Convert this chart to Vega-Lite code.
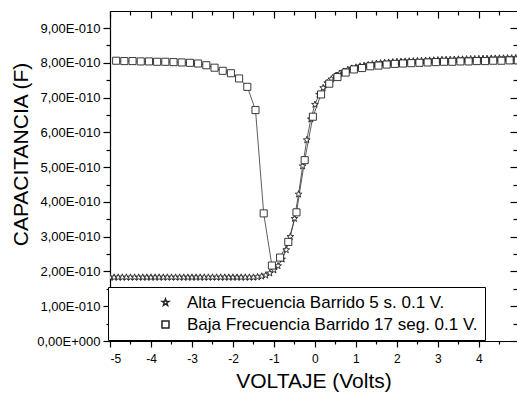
{
  "$schema": "https://vega.github.io/schema/vega-lite/v6.json",
  "width": 407,
  "height": 330,
  "autosize": {"type": "none"},
  "padding": {"left": 110, "top": 11, "right": 0, "bottom": 54},
  "background": "white",
  "config": {
    "view": {"stroke": null},
    "font": "Liberation Sans",
    "axis": {
      "labelFont": "Liberation Sans",
      "titleFont": "Liberation Sans",
      "titleFontWeight": "normal",
      "labelColor": "black",
      "titleColor": "black",
      "domainColor": "black",
      "tickColor": "black",
      "domainWidth": 1.2,
      "tickWidth": 1.2,
      "grid": false
    },
    "legend": {"labelFont": "Liberation Sans", "labelColor": "black"}
  },
  "data": {"values": [
    {"s": "Alta Frecuencia Barrido 5 s. 0.1 V.", "V": -5.0, "C": 183}, {"s": "Alta Frecuencia Barrido 5 s. 0.1 V.", "V": -4.9, "C": 183},
    {"s": "Alta Frecuencia Barrido 5 s. 0.1 V.", "V": -4.8, "C": 183}, {"s": "Alta Frecuencia Barrido 5 s. 0.1 V.", "V": -4.7, "C": 183},
    {"s": "Alta Frecuencia Barrido 5 s. 0.1 V.", "V": -4.6, "C": 183}, {"s": "Alta Frecuencia Barrido 5 s. 0.1 V.", "V": -4.5, "C": 183},
    {"s": "Alta Frecuencia Barrido 5 s. 0.1 V.", "V": -4.4, "C": 183}, {"s": "Alta Frecuencia Barrido 5 s. 0.1 V.", "V": -4.3, "C": 183},
    {"s": "Alta Frecuencia Barrido 5 s. 0.1 V.", "V": -4.2, "C": 183}, {"s": "Alta Frecuencia Barrido 5 s. 0.1 V.", "V": -4.1, "C": 183},
    {"s": "Alta Frecuencia Barrido 5 s. 0.1 V.", "V": -4.0, "C": 183}, {"s": "Alta Frecuencia Barrido 5 s. 0.1 V.", "V": -3.9, "C": 183},
    {"s": "Alta Frecuencia Barrido 5 s. 0.1 V.", "V": -3.8, "C": 183}, {"s": "Alta Frecuencia Barrido 5 s. 0.1 V.", "V": -3.7, "C": 183},
    {"s": "Alta Frecuencia Barrido 5 s. 0.1 V.", "V": -3.6, "C": 183}, {"s": "Alta Frecuencia Barrido 5 s. 0.1 V.", "V": -3.5, "C": 183},
    {"s": "Alta Frecuencia Barrido 5 s. 0.1 V.", "V": -3.4, "C": 183}, {"s": "Alta Frecuencia Barrido 5 s. 0.1 V.", "V": -3.3, "C": 183},
    {"s": "Alta Frecuencia Barrido 5 s. 0.1 V.", "V": -3.2, "C": 183}, {"s": "Alta Frecuencia Barrido 5 s. 0.1 V.", "V": -3.1, "C": 183},
    {"s": "Alta Frecuencia Barrido 5 s. 0.1 V.", "V": -3.0, "C": 183}, {"s": "Alta Frecuencia Barrido 5 s. 0.1 V.", "V": -2.9, "C": 183},
    {"s": "Alta Frecuencia Barrido 5 s. 0.1 V.", "V": -2.8, "C": 183}, {"s": "Alta Frecuencia Barrido 5 s. 0.1 V.", "V": -2.7, "C": 183},
    {"s": "Alta Frecuencia Barrido 5 s. 0.1 V.", "V": -2.6, "C": 183}, {"s": "Alta Frecuencia Barrido 5 s. 0.1 V.", "V": -2.5, "C": 183},
    {"s": "Alta Frecuencia Barrido 5 s. 0.1 V.", "V": -2.4, "C": 183}, {"s": "Alta Frecuencia Barrido 5 s. 0.1 V.", "V": -2.3, "C": 183},
    {"s": "Alta Frecuencia Barrido 5 s. 0.1 V.", "V": -2.2, "C": 183}, {"s": "Alta Frecuencia Barrido 5 s. 0.1 V.", "V": -2.1, "C": 183},
    {"s": "Alta Frecuencia Barrido 5 s. 0.1 V.", "V": -2.0, "C": 183}, {"s": "Alta Frecuencia Barrido 5 s. 0.1 V.", "V": -1.9, "C": 183},
    {"s": "Alta Frecuencia Barrido 5 s. 0.1 V.", "V": -1.8, "C": 183}, {"s": "Alta Frecuencia Barrido 5 s. 0.1 V.", "V": -1.7, "C": 183},
    {"s": "Alta Frecuencia Barrido 5 s. 0.1 V.", "V": -1.6, "C": 183}, {"s": "Alta Frecuencia Barrido 5 s. 0.1 V.", "V": -1.5, "C": 183},
    {"s": "Alta Frecuencia Barrido 5 s. 0.1 V.", "V": -1.4, "C": 184}, {"s": "Alta Frecuencia Barrido 5 s. 0.1 V.", "V": -1.3, "C": 186},
    {"s": "Alta Frecuencia Barrido 5 s. 0.1 V.", "V": -1.2, "C": 189}, {"s": "Alta Frecuencia Barrido 5 s. 0.1 V.", "V": -1.1, "C": 195},
    {"s": "Alta Frecuencia Barrido 5 s. 0.1 V.", "V": -1.0, "C": 204}, {"s": "Alta Frecuencia Barrido 5 s. 0.1 V.", "V": -0.9, "C": 216},
    {"s": "Alta Frecuencia Barrido 5 s. 0.1 V.", "V": -0.8, "C": 235}, {"s": "Alta Frecuencia Barrido 5 s. 0.1 V.", "V": -0.7, "C": 262},
    {"s": "Alta Frecuencia Barrido 5 s. 0.1 V.", "V": -0.6, "C": 300}, {"s": "Alta Frecuencia Barrido 5 s. 0.1 V.", "V": -0.5, "C": 352},
    {"s": "Alta Frecuencia Barrido 5 s. 0.1 V.", "V": -0.4, "C": 422}, {"s": "Alta Frecuencia Barrido 5 s. 0.1 V.", "V": -0.3, "C": 503},
    {"s": "Alta Frecuencia Barrido 5 s. 0.1 V.", "V": -0.2, "C": 578}, {"s": "Alta Frecuencia Barrido 5 s. 0.1 V.", "V": -0.1, "C": 638},
    {"s": "Alta Frecuencia Barrido 5 s. 0.1 V.", "V": 0.0, "C": 680}, {"s": "Alta Frecuencia Barrido 5 s. 0.1 V.", "V": 0.1, "C": 709},
    {"s": "Alta Frecuencia Barrido 5 s. 0.1 V.", "V": 0.2, "C": 728}, {"s": "Alta Frecuencia Barrido 5 s. 0.1 V.", "V": 0.3, "C": 742},
    {"s": "Alta Frecuencia Barrido 5 s. 0.1 V.", "V": 0.4, "C": 753}, {"s": "Alta Frecuencia Barrido 5 s. 0.1 V.", "V": 0.5, "C": 762},
    {"s": "Alta Frecuencia Barrido 5 s. 0.1 V.", "V": 0.6, "C": 769}, {"s": "Alta Frecuencia Barrido 5 s. 0.1 V.", "V": 0.7, "C": 775},
    {"s": "Alta Frecuencia Barrido 5 s. 0.1 V.", "V": 0.8, "C": 780}, {"s": "Alta Frecuencia Barrido 5 s. 0.1 V.", "V": 0.9, "C": 784},
    {"s": "Alta Frecuencia Barrido 5 s. 0.1 V.", "V": 1.0, "C": 787}, {"s": "Alta Frecuencia Barrido 5 s. 0.1 V.", "V": 1.1, "C": 790},
    {"s": "Alta Frecuencia Barrido 5 s. 0.1 V.", "V": 1.2, "C": 792}, {"s": "Alta Frecuencia Barrido 5 s. 0.1 V.", "V": 1.3, "C": 794},
    {"s": "Alta Frecuencia Barrido 5 s. 0.1 V.", "V": 1.4, "C": 796}, {"s": "Alta Frecuencia Barrido 5 s. 0.1 V.", "V": 1.5, "C": 798},
    {"s": "Alta Frecuencia Barrido 5 s. 0.1 V.", "V": 1.6, "C": 799}, {"s": "Alta Frecuencia Barrido 5 s. 0.1 V.", "V": 1.7, "C": 800},
    {"s": "Alta Frecuencia Barrido 5 s. 0.1 V.", "V": 1.8, "C": 801}, {"s": "Alta Frecuencia Barrido 5 s. 0.1 V.", "V": 1.9, "C": 802},
    {"s": "Alta Frecuencia Barrido 5 s. 0.1 V.", "V": 2.0, "C": 803}, {"s": "Alta Frecuencia Barrido 5 s. 0.1 V.", "V": 2.1, "C": 803.5},
    {"s": "Alta Frecuencia Barrido 5 s. 0.1 V.", "V": 2.2, "C": 804}, {"s": "Alta Frecuencia Barrido 5 s. 0.1 V.", "V": 2.3, "C": 804.5},
    {"s": "Alta Frecuencia Barrido 5 s. 0.1 V.", "V": 2.4, "C": 805}, {"s": "Alta Frecuencia Barrido 5 s. 0.1 V.", "V": 2.5, "C": 805.5},
    {"s": "Alta Frecuencia Barrido 5 s. 0.1 V.", "V": 2.6, "C": 806}, {"s": "Alta Frecuencia Barrido 5 s. 0.1 V.", "V": 2.7, "C": 806.5},
    {"s": "Alta Frecuencia Barrido 5 s. 0.1 V.", "V": 2.8, "C": 807}, {"s": "Alta Frecuencia Barrido 5 s. 0.1 V.", "V": 2.9, "C": 807.5},
    {"s": "Alta Frecuencia Barrido 5 s. 0.1 V.", "V": 3.0, "C": 808}, {"s": "Alta Frecuencia Barrido 5 s. 0.1 V.", "V": 3.1, "C": 808.5},
    {"s": "Alta Frecuencia Barrido 5 s. 0.1 V.", "V": 3.2, "C": 809}, {"s": "Alta Frecuencia Barrido 5 s. 0.1 V.", "V": 3.3, "C": 809},
    {"s": "Alta Frecuencia Barrido 5 s. 0.1 V.", "V": 3.4, "C": 809.5}, {"s": "Alta Frecuencia Barrido 5 s. 0.1 V.", "V": 3.5, "C": 810},
    {"s": "Alta Frecuencia Barrido 5 s. 0.1 V.", "V": 3.6, "C": 810}, {"s": "Alta Frecuencia Barrido 5 s. 0.1 V.", "V": 3.7, "C": 810.5},
    {"s": "Alta Frecuencia Barrido 5 s. 0.1 V.", "V": 3.8, "C": 811}, {"s": "Alta Frecuencia Barrido 5 s. 0.1 V.", "V": 3.9, "C": 811},
    {"s": "Alta Frecuencia Barrido 5 s. 0.1 V.", "V": 4.0, "C": 811.5}, {"s": "Alta Frecuencia Barrido 5 s. 0.1 V.", "V": 4.1, "C": 812},
    {"s": "Alta Frecuencia Barrido 5 s. 0.1 V.", "V": 4.2, "C": 812}, {"s": "Alta Frecuencia Barrido 5 s. 0.1 V.", "V": 4.3, "C": 812.5},
    {"s": "Alta Frecuencia Barrido 5 s. 0.1 V.", "V": 4.4, "C": 812.5}, {"s": "Alta Frecuencia Barrido 5 s. 0.1 V.", "V": 4.5, "C": 813},
    {"s": "Alta Frecuencia Barrido 5 s. 0.1 V.", "V": 4.6, "C": 813}, {"s": "Alta Frecuencia Barrido 5 s. 0.1 V.", "V": 4.7, "C": 813.5},
    {"s": "Alta Frecuencia Barrido 5 s. 0.1 V.", "V": 4.8, "C": 813.5}, {"s": "Alta Frecuencia Barrido 5 s. 0.1 V.", "V": 4.9, "C": 814},
    {"s": "Baja Frecuencia Barrido 17 seg. 0.1 V.", "V": -4.85, "C": 806}, {"s": "Baja Frecuencia Barrido 17 seg. 0.1 V.", "V": -4.65, "C": 805},
    {"s": "Baja Frecuencia Barrido 17 seg. 0.1 V.", "V": -4.45, "C": 805}, {"s": "Baja Frecuencia Barrido 17 seg. 0.1 V.", "V": -4.25, "C": 804},
    {"s": "Baja Frecuencia Barrido 17 seg. 0.1 V.", "V": -4.05, "C": 804}, {"s": "Baja Frecuencia Barrido 17 seg. 0.1 V.", "V": -3.85, "C": 803},
    {"s": "Baja Frecuencia Barrido 17 seg. 0.1 V.", "V": -3.65, "C": 803}, {"s": "Baja Frecuencia Barrido 17 seg. 0.1 V.", "V": -3.45, "C": 802},
    {"s": "Baja Frecuencia Barrido 17 seg. 0.1 V.", "V": -3.25, "C": 801}, {"s": "Baja Frecuencia Barrido 17 seg. 0.1 V.", "V": -3.05, "C": 800},
    {"s": "Baja Frecuencia Barrido 17 seg. 0.1 V.", "V": -2.85, "C": 798}, {"s": "Baja Frecuencia Barrido 17 seg. 0.1 V.", "V": -2.65, "C": 793},
    {"s": "Baja Frecuencia Barrido 17 seg. 0.1 V.", "V": -2.45, "C": 786}, {"s": "Baja Frecuencia Barrido 17 seg. 0.1 V.", "V": -2.25, "C": 777},
    {"s": "Baja Frecuencia Barrido 17 seg. 0.1 V.", "V": -2.05, "C": 770}, {"s": "Baja Frecuencia Barrido 17 seg. 0.1 V.", "V": -1.85, "C": 755},
    {"s": "Baja Frecuencia Barrido 17 seg. 0.1 V.", "V": -1.65, "C": 731}, {"s": "Baja Frecuencia Barrido 17 seg. 0.1 V.", "V": -1.45, "C": 664},
    {"s": "Baja Frecuencia Barrido 17 seg. 0.1 V.", "V": -1.25, "C": 367}, {"s": "Baja Frecuencia Barrido 17 seg. 0.1 V.", "V": -1.05, "C": 217},
    {"s": "Baja Frecuencia Barrido 17 seg. 0.1 V.", "V": -0.85, "C": 240}, {"s": "Baja Frecuencia Barrido 17 seg. 0.1 V.", "V": -0.65, "C": 285},
    {"s": "Baja Frecuencia Barrido 17 seg. 0.1 V.", "V": -0.45, "C": 370}, {"s": "Baja Frecuencia Barrido 17 seg. 0.1 V.", "V": -0.25, "C": 520},
    {"s": "Baja Frecuencia Barrido 17 seg. 0.1 V.", "V": -0.05, "C": 645}, {"s": "Baja Frecuencia Barrido 17 seg. 0.1 V.", "V": 0.15, "C": 709},
    {"s": "Baja Frecuencia Barrido 17 seg. 0.1 V.", "V": 0.35, "C": 740}, {"s": "Baja Frecuencia Barrido 17 seg. 0.1 V.", "V": 0.55, "C": 759},
    {"s": "Baja Frecuencia Barrido 17 seg. 0.1 V.", "V": 0.75, "C": 772}, {"s": "Baja Frecuencia Barrido 17 seg. 0.1 V.", "V": 0.95, "C": 781},
    {"s": "Baja Frecuencia Barrido 17 seg. 0.1 V.", "V": 1.15, "C": 785}, {"s": "Baja Frecuencia Barrido 17 seg. 0.1 V.", "V": 1.35, "C": 790},
    {"s": "Baja Frecuencia Barrido 17 seg. 0.1 V.", "V": 1.55, "C": 792}, {"s": "Baja Frecuencia Barrido 17 seg. 0.1 V.", "V": 1.75, "C": 795},
    {"s": "Baja Frecuencia Barrido 17 seg. 0.1 V.", "V": 1.95, "C": 797}, {"s": "Baja Frecuencia Barrido 17 seg. 0.1 V.", "V": 2.15, "C": 798},
    {"s": "Baja Frecuencia Barrido 17 seg. 0.1 V.", "V": 2.35, "C": 799}, {"s": "Baja Frecuencia Barrido 17 seg. 0.1 V.", "V": 2.55, "C": 800},
    {"s": "Baja Frecuencia Barrido 17 seg. 0.1 V.", "V": 2.75, "C": 801}, {"s": "Baja Frecuencia Barrido 17 seg. 0.1 V.", "V": 2.95, "C": 802},
    {"s": "Baja Frecuencia Barrido 17 seg. 0.1 V.", "V": 3.15, "C": 803}, {"s": "Baja Frecuencia Barrido 17 seg. 0.1 V.", "V": 3.35, "C": 803},
    {"s": "Baja Frecuencia Barrido 17 seg. 0.1 V.", "V": 3.55, "C": 804}, {"s": "Baja Frecuencia Barrido 17 seg. 0.1 V.", "V": 3.75, "C": 804},
    {"s": "Baja Frecuencia Barrido 17 seg. 0.1 V.", "V": 3.95, "C": 805}, {"s": "Baja Frecuencia Barrido 17 seg. 0.1 V.", "V": 4.15, "C": 805},
    {"s": "Baja Frecuencia Barrido 17 seg. 0.1 V.", "V": 4.35, "C": 806}, {"s": "Baja Frecuencia Barrido 17 seg. 0.1 V.", "V": 4.55, "C": 806},
    {"s": "Baja Frecuencia Barrido 17 seg. 0.1 V.", "V": 4.75, "C": 807}, {"s": "Baja Frecuencia Barrido 17 seg. 0.1 V.", "V": 4.95, "C": 807}
  ]},
  "resolve": {"axis": {"x": "independent", "y": "independent"}},
  "layer": [
    {
      "mark": {"type": "line", "stroke": "#333", "strokeWidth": 0.8, "clip": true},
      "encoding": {
        "detail": {"field": "s"},
        "x": {
          "field": "V", "type": "quantitative",
          "scale": {"domain": [-5, 4.93], "nice": false, "zero": false},
          "axis": {
            "orient": "bottom",
            "values": [-5, -4.5, -4, -3.5, -3, -2.5, -2, -1.5, -1, -0.5, 0, 0.5, 1, 1.5, 2, 2.5, 3, 3.5, 4, 4.5],
            "labelExpr": "datum.value % 1 != 0 ? '' : '' + datum.value",
            "tickSize": {"condition": {"test": "datum.value % 1 != 0", "value": 3}, "value": 6},
            "labelFontSize": 12,
            "labelPadding": 6,
            "title": "VOLTAJE (Volts)",
            "titleFontSize": 21,
            "titlePadding": 6
          }
        },
        "y": {
          "field": "C", "type": "quantitative",
          "scale": {"domain": [0, 949], "nice": false, "zero": true},
          "axis": {
            "orient": "left",
            "values": [0, 50, 100, 150, 200, 250, 300, 350, 400, 450, 500, 550, 600, 650, 700, 750, 800, 850, 900],
            "labelExpr": "datum.value % 100 != 0 ? '' : (datum.value == 0 ? '0,00E+000' : replace(format(datum.value / 100, '.2f'), '.', ',') + 'E-010')",
            "tickSize": {"condition": {"test": "datum.value % 100 != 0", "value": 4}, "value": 7},
            "labelFontSize": 13,
            "labelPadding": 3,
            "title": "CAPACITANCIA (F)",
            "titleFontSize": 21,
            "titlePadding": 5,
            "titleY": 143
          }
        }
      }
    },
    {
      "mark": {"type": "point", "filled": true, "fill": "white", "stroke": "#222", "strokeWidth": 0.9, "size": 50, "opacity": 1, "clip": true},
      "encoding": {
        "x": {
          "field": "V", "type": "quantitative",
          "axis": {
            "orient": "top",
            "values": [-5, -4.5, -4, -3.5, -3, -2.5, -2, -1.5, -1, -0.5, 0, 0.5, 1, 1.5, 2, 2.5, 3, 3.5, 4, 4.5],
            "labels": false,
            "title": null,
            "tickSize": {"condition": {"test": "datum.value % 1 != 0", "value": -4}, "value": -7}
          }
        },
        "y": {
          "field": "C", "type": "quantitative",
          "axis": {
            "orient": "right",
            "values": [0, 50, 100, 150, 200, 250, 300, 350, 400, 450, 500, 550, 600, 650, 700, 750, 800, 850, 900],
            "labels": false,
            "title": null,
            "domain": false,
            "tickSize": {"condition": {"test": "datum.value % 100 != 0", "value": -4}, "value": -7}
          }
        },
        "shape": {
          "field": "s",
          "type": "nominal",
          "scale": {
            "domain": ["Alta Frecuencia Barrido 5 s. 0.1 V.", "Baja Frecuencia Barrido 17 seg. 0.1 V."],
            "range": ["M0,-1L0.235,-0.324L0.951,-0.309L0.38,0.124L0.588,0.809L0,0.4L-0.588,0.809L-0.38,0.124L-0.951,-0.309L-0.235,-0.324Z", "square"]
          },
          "legend": {
            "title": null,
            "orient": "none",
            "legendX": -2,
            "legendY": 276,
            "fillColor": "white",
            "strokeColor": "black",
            "padding": 7,
            "symbolSize": 49,
            "symbolOffset": 42,
            "labelOffset": 13,
            "labelFontSize": 17,
            "labelLimit": 700,
            "rowPadding": 4,
            "encode": {
              "symbols": {
                "fill": {"value": "white"},
                "stroke": {"value": "#333"},
                "shape": {
                  "condition": {"test": "datum.value === 'Alta Frecuencia Barrido 5 s. 0.1 V.'", "value": "M-5.1,0H-1.05M1.05,0H5.1M0,-1L0.235,-0.324L0.951,-0.309L0.38,0.124L0.588,0.809L0,0.4L-0.588,0.809L-0.38,0.124L-0.951,-0.309L-0.235,-0.324Z"},
                  "value": "M-5.1,0H-1M-1,-1H1V1H-1ZM1,0H5.1"
                }
              }
            }
          }
        }
      }
    }
  ]
}
